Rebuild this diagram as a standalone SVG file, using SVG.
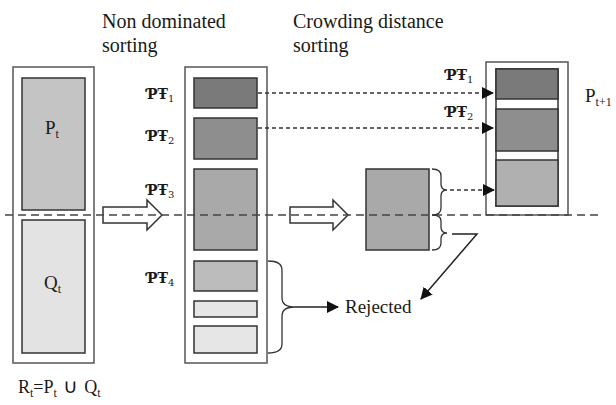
<svg xmlns="http://www.w3.org/2000/svg" width="616" height="405" viewBox="0 0 616 405">
<style>
.t{fill:#1a1a1a}
.h{font-size:19px}
.hd{font-size:20px}
.pf{font-size:14px;font-weight:bold;fill:#1a1a1a}
.outer{fill:#fff;stroke:#555;stroke-width:1.5}
.inner{stroke:#333;stroke-width:1.5}
.dash{fill:none;stroke:#333;stroke-width:1.3;stroke-dasharray:4 3}
.line{fill:none;stroke:#222;stroke-width:1.5}
.brace{fill:none;stroke:#333;stroke-width:1.3}
.hollow{fill:#fff;stroke:#333;stroke-width:1.5}
</style>
<defs>
<marker id="ah" markerWidth="12" markerHeight="12" refX="11" refY="6" orient="auto" markerUnits="userSpaceOnUse">
<path d="M0,0 L12,6 L0,12 Z" fill="#111"/>
</marker>
</defs>

<g id="headers" font-family="Liberation Serif">
<text class="t hd" x="102" y="28">Non dominated</text>
<text class="t hd" x="102" y="52">sorting</text>
<text class="t hd" x="293" y="28">Crowding distance</text>
<text class="t hd" x="293" y="52">sorting</text>
</g>

<g id="Rt" font-family="Liberation Serif">
<rect class="outer" x="13" y="67" width="81" height="296"/>
<rect class="inner" x="22" y="78" width="63" height="132" fill="#c4c4c4"/>
<rect class="inner" x="22" y="220" width="63" height="133" fill="#e3e3e3"/>
<text class="t h" x="45" y="134">P<tspan font-size="12" dy="4">t</tspan></text>
<text class="t h" x="44" y="289">Q<tspan font-size="12" dy="4">t</tspan></text>
<text class="t" font-size="18" x="18" y="393">R<tspan font-size="12" dy="4">t</tspan><tspan dy="-4">=P</tspan><tspan font-size="12" dy="4">t</tspan><tspan dy="-4" font-family="DejaVu Sans" font-size="20"> ∪ </tspan><tspan>Q</tspan><tspan font-size="12" dy="4">t</tspan></text>
</g>

<g id="fronts">
<rect class="outer" x="185" y="67" width="82" height="296"/>
<rect class="inner" x="194" y="78" width="63" height="30" fill="#7a7a7a"/>
<rect class="inner" x="194" y="118" width="63" height="41" fill="#8e8e8e"/>
<rect class="inner" x="194" y="169" width="63" height="81" fill="#a9a9a9"/>
<rect class="inner" x="194" y="261" width="63" height="30" fill="#bcbcbc"/>
<rect class="inner" x="194" y="301" width="63" height="16" fill="#e6e6e6"/>
<rect class="inner" x="194" y="326" width="63" height="27" fill="#e6e6e6"/>
<g font-family="DejaVu Serif">
<text class="pf" x="147" y="99">ƤŦ<tspan font-size="10" font-weight="normal" dy="3">1</tspan></text>
<text class="pf" x="147" y="141">ƤŦ<tspan font-size="10" font-weight="normal" dy="3">2</tspan></text>
<text class="pf" x="147" y="195">ƤŦ<tspan font-size="10" font-weight="normal" dy="3">3</tspan></text>
<text class="pf" x="147" y="283">ƤŦ<tspan font-size="10" font-weight="normal" dy="3">4</tspan></text>
</g>
</g>

<g id="crowding">
<rect class="inner" x="366" y="169" width="63" height="81" fill="#a9a9a9"/>
</g>

<g id="Pt1">
<rect class="outer" x="486" y="62" width="82" height="153"/>
<rect class="inner" x="496" y="69" width="62" height="137" fill="#fff"/>
<rect class="inner" x="496" y="69" width="62" height="30" fill="#7a7a7a"/>
<rect class="inner" x="496" y="109" width="62" height="42" fill="#8e8e8e"/>
<rect class="inner" x="496" y="160" width="62" height="46" fill="#b0b0b0"/>
<text class="t h" font-family="Liberation Serif" x="585" y="102">P<tspan font-size="12" dy="4">t+1</tspan></text>
<g font-family="DejaVu Serif">
<text class="pf" x="446" y="80">ƤŦ<tspan font-size="10" font-weight="normal" dy="3">1</tspan></text>
<text class="pf" x="446" y="117">ƤŦ<tspan font-size="10" font-weight="normal" dy="3">2</tspan></text>
</g>
</g>

<g id="rejected" font-family="Liberation Serif">
<text class="t h" x="345" y="313">Rejected</text>
</g>

<g id="connectors">
<path class="hollow" d="M103,207 H147 V200 L162,215 L147,230 V223 H103 Z"/>
<path class="hollow" d="M290,207 H333 V200 L348,215 L333,230 V223 H290 Z"/>
<line x1="5" y1="215" x2="598" y2="215" stroke="#444" stroke-width="1.5" stroke-dasharray="8 5"/>
<line class="dash" x1="258" y1="93" x2="493" y2="93" marker-end="url(#ah)"/>
<line class="dash" x1="258" y1="128" x2="493" y2="128" marker-end="url(#ah)"/>
<line class="dash" x1="450" y1="190" x2="494" y2="190" marker-end="url(#ah)"/>
<path class="brace" d="M432,169 Q441,169 441,176 V184 Q441,190 447,190 Q441,190 441,196 V208 Q441,215 432,215"/>
<path class="brace" d="M432,215 Q441,215 441,221 V227 Q441,233 447,233 Q441,233 441,239 V243 Q441,250 432,250"/>
<path class="line" d="M452,234 H477 L421,299" marker-end="url(#ah)"/>
<path class="brace" d="M268,261 Q282,261 282,270 V298 Q282,307 295,307 Q282,307 282,316 V344 Q282,353 268,353"/>
<line class="line" x1="295" y1="307" x2="338" y2="307" marker-end="url(#ah)"/>
</g>
</svg>
